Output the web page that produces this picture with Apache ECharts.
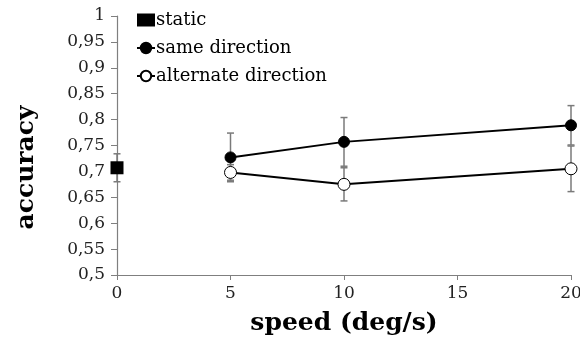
<!DOCTYPE html>
<html><head><meta charset="utf-8">
<script src="https://cdn.jsdelivr.net/npm/echarts@6/dist/echarts.min.js"></script>
<style>html,body{margin:0;padding:0;background:#fff}#c{width:580px;height:347px}</style>
</head><body><div id="c"></div>
<script>
const speeds = [5, 10, 20];
const staticX = [0];
const staticVal = [0.707];
const staticErr = [0.027];
const sameVal = [0.727, 0.757, 0.789];
const sameErr = [0.047, 0.047, 0.038];
const altVal = [0.698, 0.675, 0.705];
const altErr = [0.015, 0.032, 0.044];
const yTicks = ['0,5','0,55','0,6','0,65','0,7','0,75','0,8','0,85','0,9','0,95','1'];
const xTicks = ['0','5','10','15','20'];

const FONT = 'DejaVu Serif';
function errData(xs, vals, errs){ return xs.map((x,i)=>[x, vals[i]-errs[i], vals[i]+errs[i]]); }
function errSeries(data){
  return {
    type:'custom', z:1, silent:true, data:data, encode:{x:0,y:[1,2]},
    renderItem:function(params, api){
      const x=api.value(0), lo=api.coord([x, api.value(1)]), hi=api.coord([x, api.value(2)]);
      const w=3.5;
      const st={stroke:'#7a7a7a', lineWidth:1.5};
      return {type:'group', children:[
        {type:'line', shape:{x1:lo[0],y1:lo[1],x2:hi[0],y2:hi[1]}, style:st},
        {type:'line', shape:{x1:lo[0]-w,y1:lo[1],x2:lo[0]+w,y2:lo[1]}, style:st},
        {type:'line', shape:{x1:hi[0]-w,y1:hi[1],x2:hi[0]+w,y2:hi[1]}, style:st}
      ]};
    }
  };
}
const chart = echarts.init(document.getElementById('c'), null, {renderer:'canvas'});
chart.setOption({
  animation:false,
  backgroundColor:'#fff',
  grid:{left:117, right:9, top:16, bottom:72, outerBoundsMode:'none', containLabel:false},
  legend:{
    orient:'vertical', left:131, top:6, itemGap:10, itemWidth:18, itemHeight:13,
    textStyle:{fontFamily:FONT, fontSize:18, color:'#000', padding:[0,0,0,-4]},
    data:['static','same direction','alternate direction']
  },
  xAxis:{
    type:'value', min:0, max:20, interval:5,
    axisLine:{lineStyle:{color:'#7f7f7f', width:1.2}},
    axisTick:{length:5, lineStyle:{color:'#7f7f7f'}},
    splitLine:{show:false},
    axisLabel:{fontFamily:FONT, fontSize:17, color:'#222', margin:10,
      formatter:function(v){ return xTicks[xTicks.indexOf(String(v))]; }},
    name:'speed (deg/s)', nameLocation:'middle', nameGap:36,
    nameTextStyle:{fontFamily:FONT, fontSize:25, fontWeight:'bold', color:'#000'}
  },
  yAxis:{
    type:'value', min:0.5, max:1, interval:0.05,
    axisLine:{show:true, lineStyle:{color:'#7f7f7f', width:1.2}},
    axisTick:{show:true, length:6, lineStyle:{color:'#7f7f7f'}},
    splitLine:{show:false},
    axisLabel:{fontFamily:FONT, fontSize:17, color:'#222', margin:12,
      formatter:function(v){ return yTicks[Math.round((v-0.5)/0.05)]; }},
    name:'accuracy', nameLocation:'middle', nameGap:78,
    nameTextStyle:{fontFamily:FONT, fontSize:25, fontWeight:'bold', color:'#000', padding:[0,44,0,0]}
  },
  series:[
    errSeries(errData(staticX, staticVal, staticErr)),
    errSeries(errData(speeds, sameVal, sameErr)),
    errSeries(errData(speeds, altVal, altErr)),
    {name:'static', type:'scatter', z:3, symbol:'rect', symbolSize:13,
      itemStyle:{color:'#000', opacity:1}, data:staticX.map((x,i)=>[x, staticVal[i]])},
    {name:'same direction', type:'line', z:3, symbol:'circle', symbolSize:11,
      lineStyle:{color:'#000', width:2}, itemStyle:{color:'#000', borderColor:'#000', borderWidth:1},
      data:speeds.map((x,i)=>[x, sameVal[i]])},
    {name:'alternate direction', type:'line', z:3, symbol:'circle', symbolSize:12,
      lineStyle:{color:'#000', width:2}, itemStyle:{color:'#fff', borderColor:'#000', borderWidth:1},
      data:speeds.map((x,i)=>[x, altVal[i]])}
  ]
});
</script></body></html>
